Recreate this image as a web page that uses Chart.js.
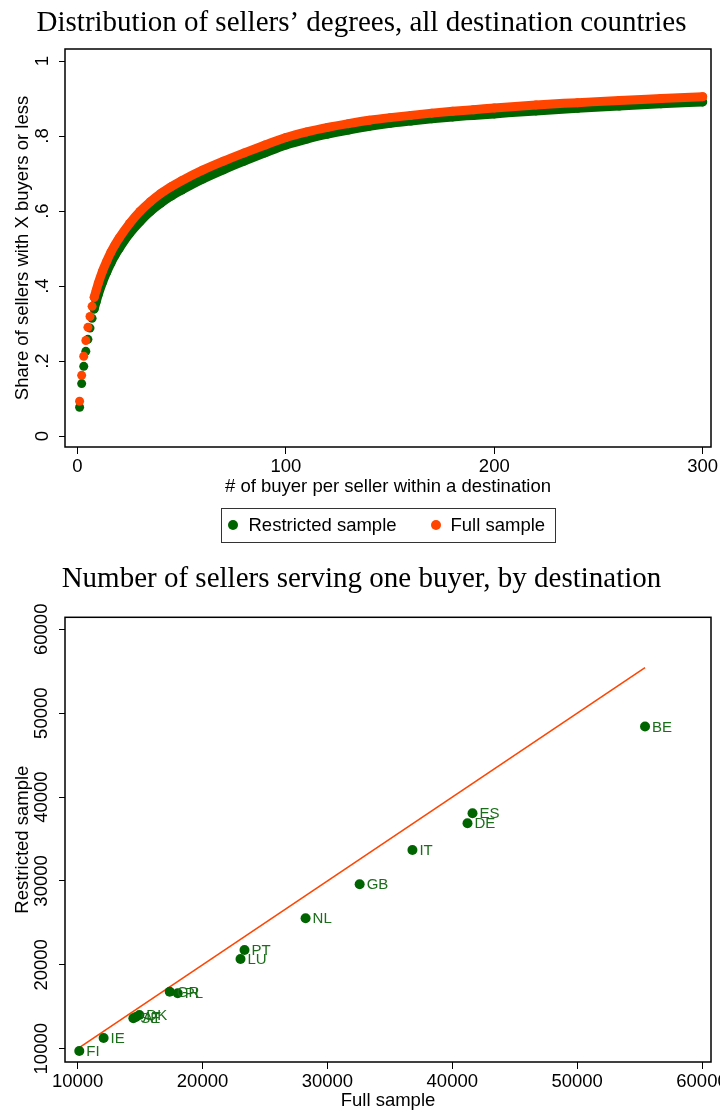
<!DOCTYPE html>
<html>
<head>
<meta charset="utf-8">
<script src="https://cdn.jsdelivr.net/npm/chart.js@4.4.1/dist/chart.umd.min.js"></script>
<style>
  body { margin: 0; background: #fff; }
  #wrap { position: relative; width: 720px; height: 1114px; overflow: hidden; }
  #degreeChart { position: absolute; left: 0; top: 0; }
  #sellersChart { position: absolute; left: 0; top: 550px; }
  .legend { position: absolute; left: 221px; top: 508px; width: 335px; height: 35px; box-sizing: border-box;
            border: 1.5px solid #333; font: 18.5px 'Liberation Sans', Arial, sans-serif; color: #000; }
  .legend .dot { position: absolute; top: 11px; width: 10px; height: 10px; border-radius: 50%; }
  .legend .lbl { position: absolute; top: 5px; line-height: 22px; white-space: nowrap; }
</style>
</head>
<body>
<div id="wrap">
  <canvas id="degreeChart" width="720" height="550"></canvas>
  <div class="legend">
    <span class="dot" style="left:5.5px;background:#006400"></span><span class="lbl" style="left:26.5px">Restricted sample</span>
    <span class="dot" style="left:208.5px;background:#ff4500"></span><span class="lbl" style="left:228.5px">Full sample</span>
  </div>
  <canvas id="sellersChart" width="720" height="564"></canvas>
</div>
<script>
// --- chart 1: CDF of sellers' degrees ---
const degreeX = [1, 2, 3, 4, 5, 6, 7, 8, 9, 10, 12, 14, 16, 18, 20, 25, 30, 35, 40, 45, 50,
  60, 70, 80, 90, 100, 110, 120, 130, 140, 150, 160, 170, 180, 190, 200, 220, 240, 260, 280, 300];
const restrictedShare = [.077, .140, .186, .226, .258, .288, .314, .339, .359, .378, .410, .437, .461, .482, .500,
  .540, .572, .599, .621, .640, .656, .685, .710, .733, .755, .776, .792, .805, .816, .826,
  .834, .840, .846, .851, .855, .859, .867, .874, .880, .886, .891];
const fullShare = [.093, .162, .213, .255, .290, .319, .346, .370, .389, .408, .440, .466, .490, .510, .528,
  .567, .599, .625, .647, .665, .681, .709, .733, .755, .776, .796, .811, .823, .833, .842,
  .849, .855, .861, .866, .870, .875, .883, .889, .895, .900, .905];
const degreeTicks = [0, 100, 200, 300];
const shareTicks = [0, .2, .4, .6, .8, 1];

// --- chart 2: sellers per buyer by destination ---
const countries = ['FI', 'IE', 'SE', 'AT', 'DK', 'GR', 'PL', 'LU', 'PT', 'NL', 'GB', 'IT', 'DE', 'ES', 'BE'];
const fullSample = [10128, 12077, 14459, 14659, 14940, 17370, 18011, 23040, 23360, 28252, 32582, 36808, 41219, 41620, 55437];
const restrictedSample = [9726, 11276, 13626, 13780, 14019, 16798, 16607, 20698, 21771, 25551, 29607, 33697, 36882, 38074, 48402];
const sellerTicks = [10000, 20000, 30000, 40000, 50000, 60000];

const GREEN = '#006400';
const ORANGE = '#ff4500';
const SANS = "'Liberation Sans', Arial, sans-serif";
const SERIF = "'Liberation Serif', 'Times New Roman', serif";

Chart.defaults.animation = false;

const framePlugin = {
  id: 'frame',
  afterDraw(chart) {
    const { ctx, chartArea: a } = chart;
    ctx.save();
    ctx.strokeStyle = '#000';
    ctx.lineWidth = 1.5;
    ctx.strokeRect(a.left, a.top, a.right - a.left, a.bottom - a.top);
    ctx.restore();
  }
};

// linear axis with fixed ticks, outside tick marks only
function axisOpts(min, max, ticks, fmt, title, o) {
  return {
    type: 'linear',
    min: min,
    max: max,
    afterBuildTicks: s => { s.ticks = ticks.map(v => ({ value: v })); },
    afterFit: s => {
      if (o.height) { s.height = o.height; s.paddingLeft = 0; s.paddingRight = 0; }
      if (o.width) { s.width = o.width; s.paddingTop = 0; s.paddingBottom = 0; }
    },
    grid: { drawOnChartArea: false, drawTicks: true, tickLength: o.tickLength, color: '#000', lineWidth: 1 },
    border: { display: false },
    ticks: {
      color: '#000',
      font: { family: SANS, size: 18.5 },
      padding: o.tickPad,
      minRotation: o.rotate ? 90 : 0,
      maxRotation: o.rotate ? 90 : 0,
      crossAlign: o.rotate ? 'center' : 'near',
      callback: fmt
    },
    title: { display: true, text: title, color: '#000', font: { family: SANS, size: 18.5 }, padding: o.titlePad }
  };
}

const shareFmt = v => (v === 0 || v === 1) ? String(v) : String(v).replace(/^0/, '');

function curve(label, ys, color, order) {
  return {
    label: label,
    data: degreeX.map((x, i) => ({ x: x, y: ys[i] })),
    backgroundColor: color,
    borderColor: color,
    pointRadius: 4.5,
    pointBorderWidth: 0,
    showLine: true,
    borderWidth: 9,
    borderCapStyle: 'round',
    borderJoinStyle: 'round',
    cubicInterpolationMode: 'monotone',
    segment: { borderColor: c => c.p0.parsed.x < 8 ? 'rgba(0,0,0,0)' : color },
    order: order
  };
}

new Chart(document.getElementById('degreeChart').getContext('2d'), {
  type: 'scatter',
  data: {
    datasets: [
      curve('Restricted sample', restrictedShare, GREEN, 1),
      curve('Full sample', fullShare, ORANGE, 0)
    ]
  },
  options: {
    responsive: false,
    layout: { padding: { left: 12, right: 9, top: 0, bottom: 50 } },
    plugins: {
      legend: { display: false },
      tooltip: { enabled: false },
      title: {
        display: true,
        text: 'Distribution of sellers\u2019 degrees, all destination countries',
        color: '#000',
        font: { family: SERIF, size: 29, weight: 'normal' },
        padding: { top: 5.6, bottom: 8.6 }
      }
    },
    scales: {
      x: axisOpts(-6, 304, degreeTicks, v => String(v), '# of buyer per seller within a destination',
        { height: 53, tickLength: 7, tickPad: 2, titlePad: { top: 0, bottom: 1.9 } }),
      y: axisOpts(-0.029, 1.032, shareTicks, shareFmt, 'Share of sellers with X buyers or less',
        { width: 53, tickLength: 6, tickPad: 8.3, rotate: true, titlePad: { top: 0, bottom: 0 } })
    }
  },
  plugins: [framePlugin]
});

const countryLabels = {
  id: 'countryLabels',
  afterDatasetsDraw(chart) {
    const meta = chart.getDatasetMeta(0);
    const ctx = chart.ctx;
    ctx.save();
    ctx.font = '15px ' + SANS;
    ctx.fillStyle = '#1a6e1a';
    ctx.textBaseline = 'middle';
    ctx.textAlign = 'left';
    meta.data.forEach((pt, i) => ctx.fillText(countries[i], pt.x + 7, pt.y + 1));
    ctx.restore();
  }
};

const lo = Math.min(...fullSample), hi = Math.max(...fullSample);

new Chart(document.getElementById('sellersChart').getContext('2d'), {
  type: 'scatter',
  data: {
    datasets: [{
      label: 'Restricted sample',
      data: fullSample.map((x, i) => ({ x: x, y: restrictedSample[i] })),
      backgroundColor: GREEN,
      pointRadius: 5,
      pointBorderWidth: 0,
      order: 0
    }, {
      label: 'Full sample',
      data: [{ x: lo, y: lo }, { x: hi, y: hi }],
      showLine: true,
      borderColor: ORANGE,
      borderWidth: 1.6,
      pointRadius: 0,
      order: 1
    }]
  },
  options: {
    responsive: false,
    layout: { padding: { left: 12, right: 9, top: 0, bottom: 0 } },
    plugins: {
      legend: { display: false },
      tooltip: { enabled: false },
      title: {
        display: true,
        text: 'Number of sellers serving one buyer, by destination',
        color: '#000',
        font: { family: SERIF, size: 29, weight: 'normal' },
        padding: { top: 11.6, bottom: 20.9 }
      }
    },
    scales: {
      x: axisOpts(8984, 60720, sellerTicks, v => String(v), 'Full sample',
        { height: 52, tickLength: 7, tickPad: 2, titlePad: { top: 0, bottom: 1.9 } }),
      y: axisOpts(8414, 61431, sellerTicks, v => String(v), 'Restricted sample',
        { width: 53, tickLength: 6, tickPad: -8.7, rotate: true, titlePad: { top: 0, bottom: 0 } })
    }
  },
  plugins: [framePlugin, countryLabels]
});
</script>
</body>
</html>
